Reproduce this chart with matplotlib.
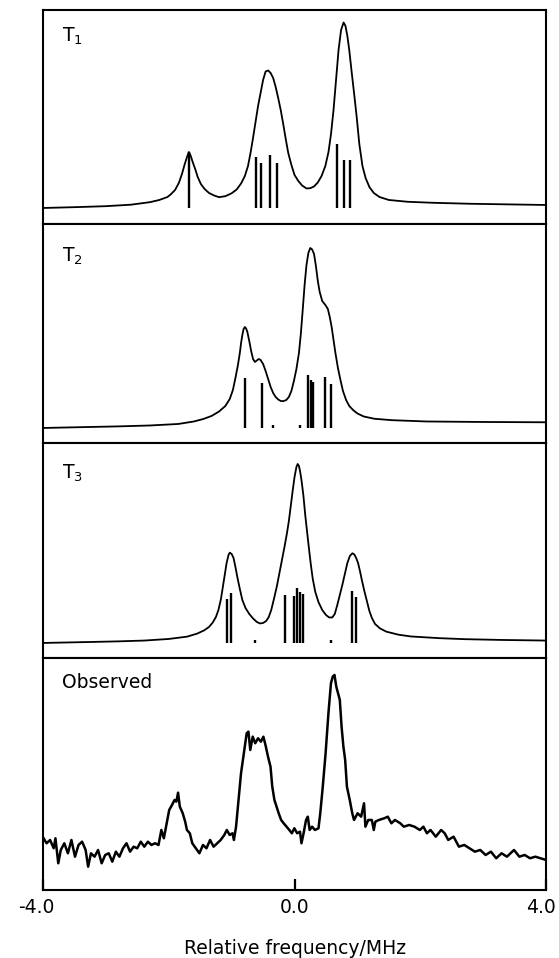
import matplotlib
matplotlib.use('Agg')
import matplotlib.pyplot as plt
from matplotlib.transforms import ScaledTranslation

# simulated spectra (frequency in MHz, intensity in arbitrary units above baseline)
t1_x = [-4.00, -3.50, -3.00, -2.60, -2.30, -2.15, -2.02, -1.97, -1.90, -1.84, -1.79, -1.75,
        -1.71, -1.68, -1.65, -1.62, -1.58, -1.54, -1.49, -1.43, -1.36, -1.28, -1.20, -1.10,
        -1.00, -0.92, -0.85, -0.79, -0.74, -0.70, -0.66, -0.62, -0.58, -0.54, -0.50, -0.46,
        -0.42, -0.38, -0.34, -0.30, -0.26, -0.22, -0.18, -0.14, -0.10, -0.05, 0.00, 0.06,
        0.12, 0.19, 0.25, 0.31, 0.37, 0.43, 0.49, 0.54, 0.58, 0.62, 0.66, 0.70,
        0.74, 0.78, 0.81, 0.84, 0.87, 0.91, 0.95, 0.99, 1.03, 1.08, 1.13, 1.19,
        1.26, 1.35, 1.50, 1.80, 2.20, 2.80, 3.40, 4.00]
t1_y = [0, 0.8, 1.8, 3.3, 5.8, 8.0, 11.0, 13.5, 18.0, 25.0, 34.0, 43.0,
        51.0, 56.0, 52.0, 46.0, 39.0, 31.0, 24.0, 19.0, 15.0, 12.5, 10.8, 11.8,
        14.7, 18.5, 24.5, 32.0, 42.0, 55.0, 70.0, 86.0, 102.0, 115.0, 128.0, 136.5,
        137.5, 135.0, 130.0, 121.0, 110.0, 98.0, 84.0, 69.0, 55.0, 43.0, 33.0, 27.0,
        22.5, 19.5, 19.8, 21.5, 25.5, 32.0, 42.0, 56.0, 74.0, 98.0, 128.0, 158.0,
        178.0, 185.5, 182.0, 172.0, 158.0, 135.0, 113.0, 90.0, 64.0, 42.0, 30.0, 21.0,
        15.0, 11.0, 8.0, 6.2, 5.2, 4.2, 3.6, 3.0]
t1_sticks = [-1.68, -0.61, -0.54, -0.39, -0.28, 0.68, 0.78, 0.88]
t1_heights = [56, 51, 45, 53, 45, 64, 48, 48]

t2_x = [-4.00, -3.40, -2.80, -2.30, -1.85, -1.60, -1.45, -1.32, -1.20, -1.10, -1.03, -0.98,
        -0.94, -0.90, -0.87, -0.85, -0.83, -0.81, -0.79, -0.77, -0.75, -0.72, -0.69, -0.66,
        -0.63, -0.60, -0.57, -0.54, -0.50, -0.46, -0.42, -0.38, -0.34, -0.30, -0.26, -0.22,
        -0.18, -0.13, -0.09, -0.05, -0.01, 0.03, 0.07, 0.10, 0.13, 0.16, 0.19, 0.22,
        0.25, 0.28, 0.31, 0.34, 0.37, 0.40, 0.44, 0.49, 0.53, 0.56, 0.59, 0.62,
        0.65, 0.69, 0.73, 0.77, 0.82, 0.87, 0.93, 1.00, 1.10, 1.27, 1.55, 2.10,
        3.00, 4.00]
t2_y = [0, 0.8, 1.6, 2.5, 4.0, 6.5, 9.0, 12.0, 16.5, 22.0, 29.0, 38.0,
        50.0, 63.0, 75.0, 85.0, 93.0, 99.0, 101.0, 99.5, 96.0, 87.0, 77.0, 69.0,
        66.0, 67.5, 69.0, 68.0, 64.0, 57.0, 49.0, 41.0, 35.0, 31.0, 28.5, 27.0,
        26.8, 28.0, 31.0, 37.0, 47.0, 59.0, 75.0, 94.0, 118.0, 143.0, 163.0, 175.0,
        180.0, 178.5, 174.0, 162.0, 147.0, 136.0, 127.0, 123.0, 119.0, 111.0, 101.0, 88.0,
        75.0, 60.0, 48.0, 37.0, 28.0, 22.0, 18.0, 14.5, 11.5, 9.2, 7.8, 6.5,
        6.0, 5.7]
t2_sticks = [-0.79, -0.52, -0.35, 0.08, 0.21, 0.26, 0.30, 0.49, 0.58]
t2_heights = [50, 45, 3, 3, 53, 48, 46, 51, 44]

t3_x = [-4.00, -3.30, -2.80, -2.39, -2.00, -1.71, -1.55, -1.44, -1.36, -1.30, -1.25, -1.21,
        -1.17, -1.14, -1.11, -1.08, -1.05, -1.03, -1.00, -0.97, -0.94, -0.91, -0.87, -0.83,
        -0.78, -0.72, -0.66, -0.60, -0.55, -0.50, -0.45, -0.41, -0.37, -0.32, -0.28, -0.24,
        -0.20, -0.16, -0.12, -0.09, -0.06, -0.03, 0.00, 0.03, 0.05, 0.07, 0.09, 0.11,
        0.14, 0.17, 0.20, 0.23, 0.26, 0.29, 0.33, 0.38, 0.44, 0.50, 0.55, 0.60,
        0.64, 0.68, 0.72, 0.76, 0.80, 0.84, 0.88, 0.92, 0.95, 0.98, 1.01, 1.04,
        1.07, 1.11, 1.15, 1.19, 1.23, 1.28, 1.36, 1.46, 1.65, 1.85, 2.30, 2.70,
        3.30, 4.00]
t3_y = [0, 0.9, 1.6, 2.4, 4.0, 6.3, 9.3, 12.5, 16.0, 20.5, 26.0, 33.0,
        44.0, 56.0, 68.0, 80.0, 88.0, 90.3, 89.0, 85.0, 76.0, 66.0, 54.0, 43.0,
        35.0, 29.0, 24.5, 21.0, 19.5, 20.0, 22.0, 26.0, 33.0, 46.0, 57.0, 70.0,
        83.0, 96.0, 110.0, 122.0, 137.0, 152.0, 166.0, 176.0, 179.0, 177.0, 171.0, 163.0,
        148.0, 128.0, 111.0, 94.0, 78.0, 64.0, 51.0, 41.0, 33.0, 28.0, 25.5, 25.5,
        29.0, 38.0, 48.0, 58.0, 69.0, 80.0, 87.0, 89.7, 88.5, 85.0, 80.0, 72.0,
        63.0, 52.0, 42.0, 32.0, 25.0, 19.0, 14.5, 11.3, 8.3, 6.5, 4.8, 3.8,
        3.0, 2.4]
t3_sticks = [-1.08, -1.01, -0.63, -0.15, -0.01, 0.04, 0.08, 0.14, 0.58, 0.91, 0.98]
t3_heights = [44, 50, 3, 48, 47, 55, 51, 49, 3, 52, 46]

# observed spectrum
obs_x = [-4.000, -3.943, -3.887, -3.830, -3.802, -3.757, -3.717, -3.661, -3.604, -3.548,
         -3.491, -3.435, -3.378, -3.322, -3.282, -3.237, -3.180, -3.124, -3.067, -3.011,
         -2.954, -2.898, -2.841, -2.785, -2.728, -2.672, -2.615, -2.559, -2.502, -2.445,
         -2.389, -2.332, -2.276, -2.219, -2.163, -2.118, -2.078, -2.038, -1.993, -1.948,
         -1.908, -1.880, -1.852, -1.824, -1.778, -1.739, -1.711, -1.665, -1.626, -1.569,
         -1.513, -1.456, -1.400, -1.343, -1.287, -1.230, -1.174, -1.117, -1.077, -1.032,
         -0.987, -0.964, -0.930, -0.891, -0.851, -0.806, -0.761, -0.733, -0.704, -0.665,
         -0.625, -0.580, -0.535, -0.495, -0.456, -0.422, -0.382, -0.354, -0.320, -0.286,
         -0.252, -0.213, -0.173, -0.128, -0.083, -0.043, -0.003, 0.042, 0.087, 0.110,
         0.144, 0.183, 0.211, 0.240, 0.279, 0.324, 0.381, 0.409, 0.449, 0.494,
         0.539, 0.579, 0.607, 0.635, 0.664, 0.692, 0.720, 0.748, 0.777, 0.805,
         0.833, 0.878, 0.918, 0.946, 1.003, 1.059, 1.105, 1.127, 1.172, 1.229,
         1.260, 1.285, 1.342, 1.427, 1.483, 1.540, 1.596, 1.681, 1.738, 1.822, 1.907,
         1.992, 2.049, 2.105, 2.162, 2.246, 2.331, 2.388, 2.444, 2.529, 2.614,
         2.699, 2.783, 2.868, 2.953, 3.038, 3.123, 3.207, 3.292, 3.377, 3.490,
         3.575, 3.660, 3.744, 3.829, 3.914, 4.000]
obs_y = [52.7, 46.7, 50.0, 41.7, 51.7, 26.7, 40.0, 46.7, 36.7, 50.0,
         33.3, 45.0, 48.3, 40.0, 23.3, 36.7, 33.3, 40.0, 26.7, 35.0,
         36.7, 28.3, 38.3, 33.3, 41.7, 46.7, 38.3, 43.3, 41.7, 48.3,
         43.3, 48.3, 45.0, 46.7, 45.0, 60.0, 51.7, 65.0, 80.0, 85.0,
         90.0, 88.3, 97.3, 83.3, 76.7, 68.3, 60.0, 56.7, 46.7, 41.7,
         36.7, 45.0, 41.7, 50.0, 43.3, 46.7, 50.0, 55.0, 60.0, 55.0,
         56.7, 50.0, 63.3, 90.0, 116.7, 136.7, 156.7, 158.3, 140.0, 153.3,
         146.7, 151.7, 148.3, 153.3, 143.3, 133.3, 123.3, 103.3, 90.0, 83.3,
         76.7, 70.0, 66.7, 63.3, 60.0, 56.7, 61.7, 56.7, 58.3, 46.7,
         56.7, 70.0, 73.3, 60.0, 63.3, 60.0, 61.7, 76.7, 103.3, 136.7,
         176.7, 206.7, 213.3, 215.0, 203.3, 196.7, 190.0, 163.3, 143.3, 130.0,
         103.3, 90.0, 76.7, 70.0, 76.7, 73.3, 86.7, 63.3, 70.0, 70.0,
         60.0, 68.3, 70.0, 71.7, 73.3, 66.7, 70.0, 66.7, 63.3, 65.0, 63.3,
         60.0, 63.3, 56.7, 60.0, 53.3, 60.0, 56.7, 50.0, 53.3, 43.3,
         45.0, 41.7, 38.3, 40.0, 35.0, 38.3, 31.7, 36.7, 33.3, 40.0,
         33.3, 35.0, 31.7, 33.3, 31.7, 30.0]

panel_labels = ['T$_1$', 'T$_2$', 'T$_3$', 'Observed']
tick_vals = [-4.0, 0.0, 4.0]
tick_labels = ['-4.0', '0.0', '4.0']

plt.rcParams['font.family'] = ['DejaVu Sans']
plt.rcParams['mathtext.fontset'] = 'dejavusans'


def setup_frame(ax, label, label_y):
    for sp in ax.spines.values():
        sp.set_linewidth(1.5)
    ax.set_xlim(-4, 4)
    ax.set_yticks([])
    ax.text(0.038, label_y, label, transform=ax.transAxes, fontsize=13.5,
            ha='left', va='baseline')


def plot_sim(ax, x, y, sticks, heights, ylim, label, label_y):
    ax.plot(x, y, color='black', lw=1.3)
    ax.vlines(sticks, 0, heights, color='black', lw=1.7)
    ax.set_ylim(*ylim)
    ax.set_xticks([])
    setup_frame(ax, label, label_y)


def nudge(label, dx_px):
    label.set_transform(label.get_transform() + ScaledTranslation(dx_px / 72, 0, fig.dpi_scale_trans))


fig = plt.figure(figsize=(5.59, 9.58), dpi=100)
left, width = 0.0769, 0.900

ax1 = fig.add_axes([left, 0.7662, width, 0.2234])
plot_sim(ax1, t1_x, t1_y, t1_sticks, t1_heights, (-16, 198), panel_labels[0], 0.85)

ax2 = fig.add_axes([left, 0.5376, width, 0.2286])
plot_sim(ax2, t2_x, t2_y, t2_sticks, t2_heights, (-15, 204), panel_labels[1], 0.83)

ax3 = fig.add_axes([left, 0.3132, width, 0.2244])
plot_sim(ax3, t3_x, t3_y, t3_sticks, t3_heights, (-15, 200), panel_labels[2], 0.833)

ax4 = fig.add_axes([left, 0.0710, width, 0.2422])
ax4.plot(obs_x, obs_y, color='black', lw=1.8)
ax4.set_ylim(0, 232)
setup_frame(ax4, panel_labels[3], 0.87)
ax4.set_xticks(tick_vals)
ax4.set_xticklabels(tick_labels, fontsize=13.5)
ax4.tick_params(axis='x', direction='in', length=8, width=1.6, pad=6)
# outer labels sit a little inward, as in the original
labels = ax4.get_xticklabels()
nudge(labels[0], -5)
nudge(labels[-1], -4)

fig.text(left + width / 2, 0.0094, 'Relative frequency/MHz', ha='center', va='center',
         fontsize=13.5)

fig.savefig('out.png', dpi=100)
